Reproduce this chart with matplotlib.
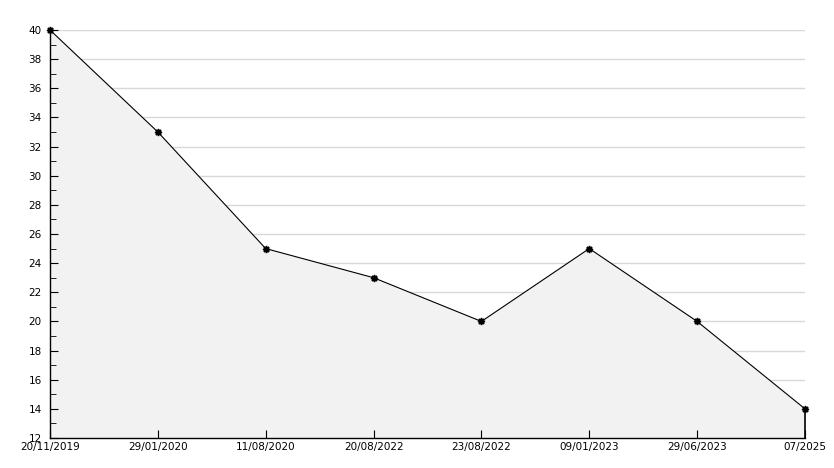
import matplotlib
matplotlib.use('Agg')
import matplotlib.pyplot as plt
from matplotlib.ticker import MultipleLocator

# data
dates = ['20/11/2019', '29/01/2020', '11/08/2020', '20/08/2022',
         '23/08/2022', '09/01/2023', '29/06/2023', '07/2025']
values = [40, 33, 25, 23, 20, 25, 20, 14]
y_grid = list(range(14, 41, 2))

W, H = 834, 468
fig = plt.figure(figsize=(W / 100, H / 100), dpi=100)
ax = fig.add_axes([50 / W, (H - 438) / H, (805 - 50) / W, (438 - 30) / H])

x = list(range(len(dates)))

# grid lines sit under the shaded area, ticks and spines above it
ax.hlines(y_grid, 0, len(dates) - 1, colors='#d8d8d8', lw=1, zorder=0.2)

verts = list(zip(x, values)) + [(x[-1], 12), (x[0], 12)]
ax.fill([v[0] for v in verts], [v[1] for v in verts], facecolor='#f2f2f2',
        edgecolor='none', zorder=2)
ax.plot([x[-1], x[-1]], [12, values[-1]], color='black', lw=1.2, zorder=3, clip_on=False)
ax.plot(x, values, color='black', lw=0.8, marker=(8, 1, 0), ms=5, zorder=4, clip_on=False)

ax.set_xlim(0, len(dates) - 1)
ax.set_ylim(12, 40)
ax.yaxis.set_major_locator(MultipleLocator(2))
ax.yaxis.set_minor_locator(MultipleLocator(1))
ax.set_xticks(x)
ax.set_xticklabels(dates)
ax.set_axisbelow(False)

for side in ['top', 'right']:
    ax.spines[side].set_visible(False)
for side in ['left', 'bottom']:
    ax.spines[side].set_linewidth(1)
    ax.spines[side].set_zorder(3)

ax.tick_params(axis='y', which='major', direction='in', length=6, labelsize=7.5, pad=6)
ax.tick_params(axis='y', which='minor', direction='in', length=4)
ax.tick_params(axis='x', direction='in', length=6, labelsize=7.5, pad=3)

plt.savefig('out.png', dpi=100)
